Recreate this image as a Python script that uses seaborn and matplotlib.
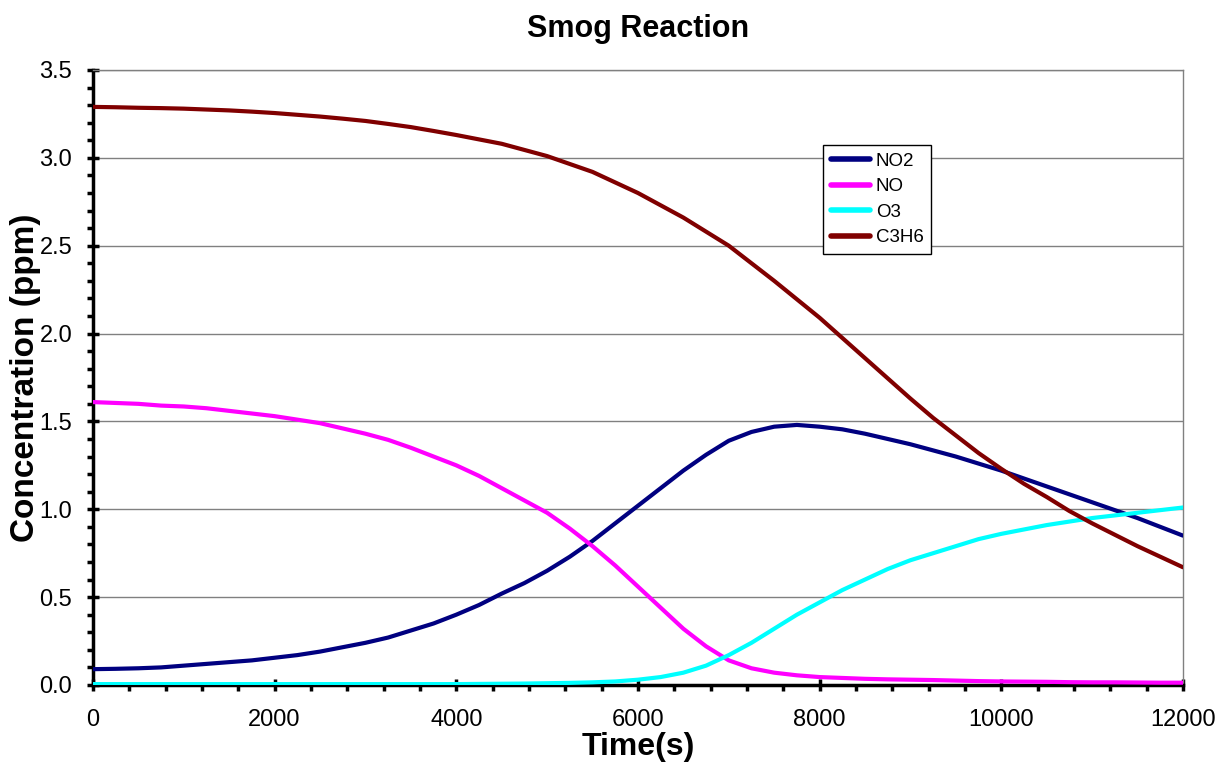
import pandas as pd
import seaborn as sns
import matplotlib.pyplot as plt
from matplotlib.ticker import MultipleLocator

# values (every 250 s)
time_s = list(range(0, 12001, 250))
no2 = [0.09, 0.092, 0.095, 0.10, 0.11, 0.12, 0.13, 0.14, 0.155, 0.17, 0.19, 0.215,
       0.24, 0.27, 0.31, 0.35, 0.40, 0.455, 0.52, 0.58, 0.65, 0.73, 0.82, 0.92,
       1.02, 1.12, 1.22, 1.31, 1.39, 1.44, 1.47, 1.48, 1.47, 1.455, 1.43, 1.40,
       1.37, 1.335, 1.30, 1.26, 1.22, 1.175, 1.13, 1.085, 1.04, 0.995, 0.95, 0.90,
       0.85]
no = [1.61, 1.605, 1.60, 1.59, 1.585, 1.575, 1.56, 1.545, 1.53, 1.51, 1.49, 1.46,
      1.43, 1.395, 1.35, 1.30, 1.25, 1.19, 1.12, 1.05, 0.98, 0.89, 0.79, 0.68,
      0.56, 0.44, 0.32, 0.22, 0.14, 0.095, 0.07, 0.055, 0.045, 0.04, 0.035, 0.032,
      0.03, 0.028, 0.025, 0.022, 0.02, 0.019, 0.018, 0.016, 0.015, 0.015, 0.014,
      0.013, 0.013]
o3 = [0.005, 0.005, 0.005, 0.005, 0.005, 0.005, 0.005, 0.005, 0.005, 0.005, 0.005,
      0.005, 0.005, 0.005, 0.005, 0.005, 0.005, 0.006, 0.007, 0.008, 0.01, 0.012,
      0.015, 0.02, 0.03, 0.045, 0.07, 0.11, 0.17, 0.24, 0.32, 0.40, 0.47, 0.54,
      0.60, 0.66, 0.71, 0.75, 0.79, 0.83, 0.86, 0.885, 0.91, 0.93, 0.95, 0.965,
      0.98, 0.995, 1.01]
c3h6 = [3.29, 3.288, 3.285, 3.283, 3.28, 3.275, 3.27, 3.263, 3.255, 3.245, 3.235,
        3.223, 3.21, 3.193, 3.175, 3.153, 3.13, 3.105, 3.08, 3.045, 3.01, 2.965,
        2.92, 2.86, 2.80, 2.73, 2.66, 2.58, 2.50, 2.40, 2.30, 2.195, 2.09, 1.975,
        1.86, 1.745, 1.63, 1.52, 1.42, 1.32, 1.23, 1.145, 1.07, 0.99, 0.92, 0.855,
        0.79, 0.73, 0.67]

series = {"NO2": no2, "NO": no, "O3": o3, "C3H6": c3h6}
colors = {"NO2": "#000080", "NO": "#FF00FF", "O3": "#00FFFF", "C3H6": "#800000"}

df = pd.concat([pd.DataFrame({"time": time_s, "conc": v, "species": k})
                for k, v in series.items()], ignore_index=True)

sns.set_style("white")
plt.rcParams["font.family"] = ["Liberation Sans", "DejaVu Sans"]
plt.rcParams["text.color"] = "black"
plt.rcParams["axes.labelcolor"] = "black"
plt.rcParams["xtick.color"] = "black"
plt.rcParams["ytick.color"] = "black"

fig = plt.figure(figsize=(12.28, 7.76), dpi=100)
ax = fig.add_axes([0.0757, 0.1173, 0.8876, 0.7925])

sns.lineplot(data=df, x="time", y="conc", hue="species", palette=colors,
             linewidth=3, ax=ax, zorder=3)

ax.set_xlim(0, 12000)
ax.set_ylim(0, 3.5)
ax.xaxis.set_major_locator(MultipleLocator(2000))
ax.xaxis.set_minor_locator(MultipleLocator(400))
ax.yaxis.set_major_locator(MultipleLocator(0.5))
ax.yaxis.set_minor_locator(MultipleLocator(0.1))
ax.yaxis.set_major_formatter(plt.FormatStrFormatter("%.1f"))
ax.grid(axis="y", color="#808080", linewidth=1, zorder=0)
ax.grid(axis="x", visible=False)

ax.tick_params(which="major", direction="inout", length=8, width=2.5,
               labelsize=17, color="black", labelcolor="black")
ax.tick_params(which="minor", direction="out", length=4, width=2.5, color="black")
ax.tick_params(axis="x", which="major", pad=13)
ax.tick_params(axis="y", which="major", pad=11)
ax.tick_params(bottom=True, left=True, which="both")

for s in ["left", "bottom"]:
    ax.spines[s].set_color("black")
    ax.spines[s].set_linewidth(2.5)
for s in ["top", "right"]:
    ax.spines[s].set_color("#808080")
    ax.spines[s].set_linewidth(1)

ax.set_title("Smog Reaction", fontsize=22, fontweight="bold", pad=24, color="black")
ax.set_xlabel("Time(s)", fontsize=23, fontweight="bold", labelpad=1)
ax.set_ylabel("Concentration (ppm)", fontsize=24, fontweight="bold", labelpad=-1)

leg = ax.legend(loc="upper left", bbox_to_anchor=(0.67, 0.878), fontsize=13.5,
                frameon=True, fancybox=False, edgecolor="black", framealpha=1,
                handlelength=2.1, handletextpad=0.3, labelspacing=0.45,
                borderpad=0.4, borderaxespad=0)
leg.get_frame().set_linewidth(1)
for line in leg.get_lines():
    line.set_linewidth(4)
for t in leg.get_texts():
    t.set_color("black")

fig.savefig("out.png", dpi=100)
